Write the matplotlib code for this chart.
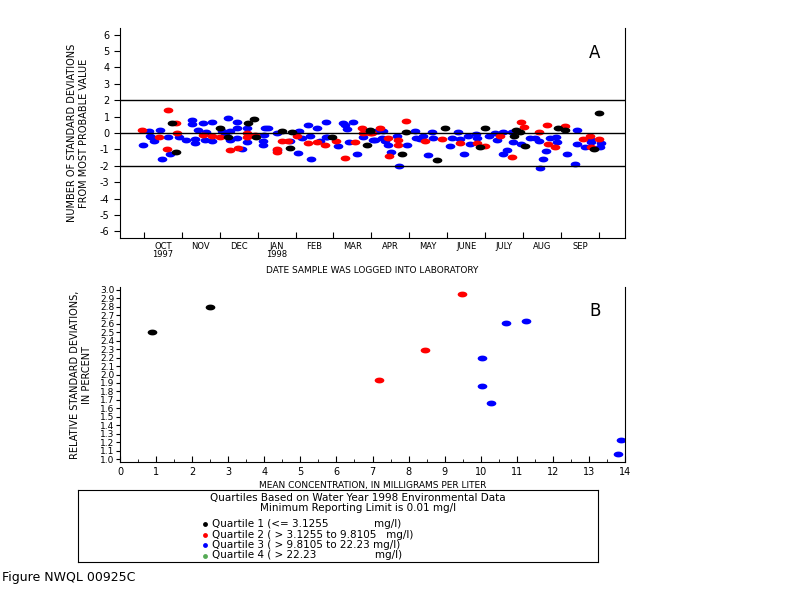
import matplotlib
matplotlib.use("Agg")
import matplotlib.pyplot as plt
import numpy as np

# Panel A: x = months since 1 Oct 1997, y = standard deviations from most probable value
q1_a_x = [0.73,0.84,2.02,2.21,2.75,2.90,2.96,3.63,3.90,3.85,4.95,5.88,5.96,5.96,6.80,6.91,7.74,7.94,8.87,9.00,9.81,9.77,9.92,10.05,10.93,11.11,11.87,12.00]
q1_a_y = [0.58,-1.16,0.28,-0.22,0.64,0.84,-0.22,0.14,0.04,-0.9,-0.22,-0.76,0.14,0.2,-1.3,0.04,-1.66,0.3,-0.86,0.3,0.2,-0.16,0.04,-0.8,0.3,0.2,-1.0,1.2]
q2_a_x = [-0.04,0.40,0.64,0.62,0.84,0.88,1.57,1.79,2.01,2.27,2.49,2.71,2.71,2.93,3.50,3.50,3.63,3.81,4.03,4.34,4.56,4.78,5.07,5.30,5.57,5.74,5.79,5.96,
          6.01,6.23,6.45,6.47,6.71,6.71,6.91,7.41,7.85,8.34,8.79,9.00,9.39,9.72,9.94,10.03,10.43,10.63,10.67,10.84,11.11,11.57,11.77,11.80,12.01]
q2_a_y = [0.2,-0.22,1.4,-0.96,0.58,0,-0.1,-0.16,-0.22,-1.06,-0.92,0,-0.22,-0.12,-0.96,-1.16,-0.46,-0.46,-0.16,-0.62,-0.56,-0.72,-0.46,-1.52,-0.52,0.28,0,0,
          -0.02,0.28,-0.3,-1.42,-0.4,-0.72,0.74,-0.5,-0.36,-0.6,-0.6,-0.8,-0.16,-1.46,0.68,0.38,0.04,0.5,-0.7,-0.86,0.44,-0.36,-0.16,-0.86,-0.36]
q3_a_x = [-0.02,0.14,0.16,0.20,0.26,0.42,0.47,0.64,0.69,0.93,1.11,1.28,1.28,1.35,1.36,1.42,1.57,1.61,1.65,1.79,1.79,2.05,2.14,2.23,2.27,2.27,2.45,2.45,2.45,2.58,2.71,2.71,
          3.15,3.15,3.17,3.19,3.28,3.50,3.50,3.85,4.07,4.10,4.16,4.34,4.38,4.41,4.57,4.64,4.80,4.80,4.82,5.13,5.26,5.30,5.35,5.42,5.52,5.63,5.77,6.05,6.14,
          6.10,6.18,6.32,6.27,6.36,6.45,6.53,6.67,6.74,6.95,7.15,7.19,7.28,7.37,7.50,7.59,7.63,8.07,8.14,8.29,8.34,8.44,8.56,8.60,8.76,8.78,9.09,9.26,9.31,
          9.46,9.57,9.48,9.70,9.73,9.96,10.18,10.32,10.43,10.52,10.45,10.61,10.71,10.86,10.89,11.15,11.37,11.42,11.43,11.63,11.77,11.80,12.03,12.06]
q3_a_y = [-0.72,0.14,-0.16,-0.26,-0.5,0.2,-1.56,-0.22,-1.3,-0.22,-0.4,0.78,0.54,-0.36,-0.62,0.2,0.58,-0.42,0.08,0.68,-0.46,0.1,-0.02,0.94,-0.4,0.14,-0.32,0.68,0.28,-0.96,0.28,-0.56,
          -0.46,-0.76,-0.12,0.28,0.28,0,-1.06,-0.46,-1.22,0.14,-0.32,0.48,-0.16,-1.6,0.28,-0.46,0.68,-0.26,-0.22,-0.82,0.64,0.48,0.24,-0.52,0.68,-1.3,-0.26,-0.4,0.14,
          -0.4,0.14,0.14,-0.3,-0.5,-0.72,-1.16,-0.16,-2.0,-0.72,0.14,-0.3,-0.36,-0.16,-1.36,0.04,-0.3,-0.82,-0.3,0.08,-0.36,-1.3,-0.16,-0.66,-0.06,-0.3,-0.16,-0.02,-0.4,
          -1.26,-1.02,0.04,0.04,-0.52,-0.7,-0.3,-0.3,-0.5,-1.6,-2.16,-1.12,-0.3,-0.26,-0.52,-1.3,-1.86,0.2,-0.66,-0.86,-0.36,-0.56,-0.86,-0.62]

# Panel B: mean concentration vs relative standard deviation
q1_b_x = [0.89, 2.5]
q1_b_y = [2.5, 2.79]
q2_b_x = [7.18, 8.45, 9.48]
q2_b_y = [1.93, 2.29, 2.95]
q3_b_x = [10.04, 10.04, 10.29, 10.7, 11.26, 13.8, 13.9]
q3_b_y = [2.2, 1.87, 1.66, 2.61, 2.63, 1.07, 1.23]

months = ["OCT\n1997", "NOV", "DEC", "JAN\n1998", "FEB", "MAR", "APR", "MAY", "JUNE", "JULY", "AUG", "SEP"]

plt.rcParams['font.family'] = ['DejaVu Sans']
fig = plt.figure(figsize=(8, 6), dpi=100)
W, H = 800, 600
def ax_at(x0, y0, x1, y1):
    return fig.add_axes([x0 / W, 1 - y1 / H, (x1 - x0) / W, (y1 - y0) / H])

t = np.linspace(0, 2 * np.pi, 24)
ell = np.column_stack([np.cos(t), 0.6 * np.sin(t)])
mk = dict(marker=ell, ms=7, ls='none', markeredgewidth=0)
fs = 7

# Panel A
a = ax_at(120, 28, 625, 238)
a.plot(q3_a_x, q3_a_y, color='#0000ff', **mk)
a.plot(q2_a_x, q2_a_y, color='#ff0000', **mk)
a.plot(q1_a_x, q1_a_y, color='black', **mk)
for yv in (2, 0, -2):
    a.axhline(yv, color='black', lw=1)
a.set_xlim(-0.63, 12.69)
a.set_ylim(-6.4, 6.4)
a.spines['top'].set_visible(False)
a.set_yticks(range(-6, 7))
a.set_yticklabels([str(v) for v in range(-6, 7)], fontsize=fs)
a.set_xticks(range(0, 13))
a.set_xticklabels([])
a.set_xticks(np.arange(12) + 0.5, minor=True)
a.set_xticklabels(months, minor=True, fontsize=6, linespacing=0.9)
a.tick_params(axis='x', which='minor', length=0, pad=3)
a.tick_params(axis='x', which='major', direction='in', length=4)
a.tick_params(axis='y', direction='out', length=4)
a.set_xlabel("DATE SAMPLE WAS LOGGED INTO LABORATORY", fontsize=6.5, labelpad=5)
a.set_ylabel("NUMBER OF STANDARD DEVIATIONS\nFROM MOST PROBABLE VALUE", fontsize=7, labelpad=8)
a.text(0.94, 0.88, "A", transform=a.transAxes, fontsize=12, ha='center', va='center')

# Panel B
b = ax_at(120, 287, 625, 462)
b.plot(q1_b_x, q1_b_y, color='black', **mk)
b.plot(q2_b_x, q2_b_y, color='#ff0000', **mk)
b.plot(q3_b_x, q3_b_y, color='#0000ff', **mk)
b.set_xlim(0, 14)
b.set_ylim(0.97, 3.03)
b.spines['top'].set_visible(False)
b.set_xticks(range(0, 15))
b.set_xticklabels([str(v) for v in range(0, 15)], fontsize=fs)
b.set_xticks(np.arange(0.5, 14, 1), minor=True)
b.tick_params(axis='x', which='major', direction='in', length=4)
b.tick_params(axis='x', which='minor', direction='in', length=2)
yt = np.round(np.arange(1.0, 3.01, 0.1), 1)
b.set_yticks(yt)
b.set_yticklabels([f"{v:.1f}" for v in yt], fontsize=6.5)
b.tick_params(axis='y', direction='out', length=3, pad=1)
b.set_xlabel("MEAN CONCENTRATION, IN MILLIGRAMS PER LITER", fontsize=6.5, labelpad=3)
b.set_ylabel("RELATIVE STANDARD DEVIATIONS,\nIN PERCENT", fontsize=7, labelpad=6)
b.text(0.94, 0.86, "B", transform=b.transAxes, fontsize=12, ha='center', va='center')

# Legend box
lg = ax_at(78, 490, 598, 562)
lg.set_xticks([]); lg.set_yticks([])
lg.set_xlim(78, 598); lg.set_ylim(562, 490)
lg.text(358, 498, "Quartiles Based on Water Year 1998 Environmental Data", ha='center', va='center', fontsize=7.5)
lg.text(358, 508, "Minimum Reporting Limit is 0.01 mg/l", ha='center', va='center', fontsize=7.5)
entries = [("Quartile 1 (<= 3.1255              mg/l)", 'black'),
           ("Quartile 2 ( > 3.1255 to 9.8105   mg/l)", '#ff0000'),
           ("Quartile 3 ( > 9.8105 to 22.23 mg/l)", '#0000ff'),
           ("Quartile 4 ( > 22.23                  mg/l)", '#55aa55')]
for i, (t_, c) in enumerate(entries):
    yy = 524 + i * 10.5
    lg.plot([205], [yy], marker='o', ms=3.5, color=c, markeredgewidth=0)
    lg.text(212, yy, t_, va='center', fontsize=7.5)

fig.text(2 / W, 1 - 578 / H, "Figure NWQL 00925C", fontsize=9, va='center')
fig.savefig("out.png", dpi=100)
